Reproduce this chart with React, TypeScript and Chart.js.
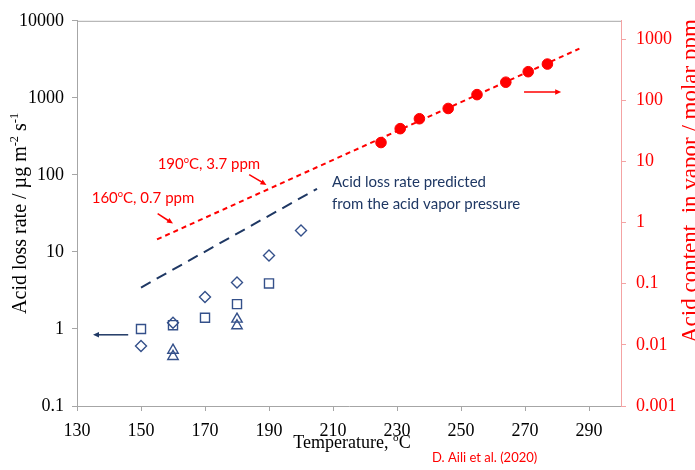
import React, { useEffect, useRef } from "react";
import { Chart, registerables } from "chart.js";

Chart.register(...registerables);

// ---------- data ----------
const X_TICKS = [130, 150, 170, 190, 210, 230, 250, 270, 290];
const Y_TICKS = [0.1, 1, 10, 100, 1000, 10000];
const Y2_TICKS = [0.001, 0.01, 0.1, 1, 10, 100, 1000];

const TEMP_DIAMOND = [150, 160, 170, 180, 190, 200];
const RATE_DIAMOND = [0.6, 1.2, 2.6, 4.0, 9.0, 19];

const TEMP_SQUARE = [150, 160, 170, 180, 190];
const RATE_SQUARE = [1.0, 1.12, 1.4, 2.1, 3.9];

const TEMP_TRIANGLE = [160, 160, 180, 180];
const RATE_TRIANGLE = [0.53, 0.44, 1.34, 1.1];

const TEMP_PREDICTED = [150, 205];
const RATE_PREDICTED = [3.45, 66];

const TEMP_VAPOR = [225, 231, 237, 246, 255, 264, 271, 277];
const VAPOR_PPM = [20.4, 34.4, 50, 73.6, 124, 198, 294, 392];

const TEMP_VAPOR_FIT = [155, 287];
const VAPOR_FIT_PPM = [0.53, 700];

// ---------- styles ----------
const SERIF = "'Liberation Serif', 'Times New Roman', serif";
const SANS = "Lato, 'Open Sans', sans-serif";
const NAVY = "#1F3864";
const MARK = "#34508A";
const RED = "#FF0000";
const AXIS_GRAY = "#A6A6A6";
const AXIS_PINK = "#F4A3A3";

const pts = (xs: number[], ys: number[]) => xs.map((x, i) => ({ x, y: ys[i] }));

type Part = [string, boolean?];

function richWidth(ctx: CanvasRenderingContext2D, parts: Part[], size: number, family: string) {
  let w = 0;
  for (const [t, sup] of parts) {
    ctx.font = `${sup ? size * 0.62 : size}px ${family}`;
    w += ctx.measureText(t).width;
  }
  return w;
}

function drawRich(
  ctx: CanvasRenderingContext2D,
  parts: Part[],
  x: number,
  y: number,
  size: number,
  family: string,
  color: string,
  align: "left" | "center" = "left"
) {
  ctx.save();
  ctx.fillStyle = color;
  ctx.textBaseline = "alphabetic";
  ctx.textAlign = "left";
  const total = richWidth(ctx, parts, size, family);
  let cx = align === "center" ? x - total / 2 : x;
  for (const [t, sup] of parts) {
    ctx.font = `${sup ? size * 0.62 : size}px ${family}`;
    ctx.fillText(t, cx, sup ? y - size * 0.4 : y);
    cx += ctx.measureText(t).width;
  }
  ctx.restore();
}

function drawArrow(
  ctx: CanvasRenderingContext2D,
  x1: number,
  y1: number,
  x2: number,
  y2: number,
  color: string,
  width: number,
  head: number
) {
  const ang = Math.atan2(y2 - y1, x2 - x1);
  ctx.save();
  ctx.strokeStyle = color;
  ctx.fillStyle = color;
  ctx.lineWidth = width;
  ctx.setLineDash([]);
  ctx.beginPath();
  ctx.moveTo(x1, y1);
  ctx.lineTo(x2 - Math.cos(ang) * head * 0.8, y2 - Math.sin(ang) * head * 0.8);
  ctx.stroke();
  ctx.beginPath();
  ctx.moveTo(x2, y2);
  ctx.lineTo(
    x2 - Math.cos(ang) * head + Math.sin(ang) * head * 0.45,
    y2 - Math.sin(ang) * head - Math.cos(ang) * head * 0.45
  );
  ctx.lineTo(
    x2 - Math.cos(ang) * head - Math.sin(ang) * head * 0.45,
    y2 - Math.sin(ang) * head + Math.cos(ang) * head * 0.45
  );
  ctx.closePath();
  ctx.fill();
  ctx.restore();
}

const decorPlugin = {
  id: "decor",
  afterDraw(chart: any) {
    const ctx: CanvasRenderingContext2D = chart.ctx;
    const { left, right, top, bottom } = chart.chartArea;
    const xs = chart.scales.x;
    const yl = chart.scales.y;
    const yr = chart.scales.y2;
    const X = (v: number) => xs.getPixelForValue(v);
    const YL = (v: number) => yl.getPixelForValue(v);
    const YR = (v: number) => yr.getPixelForValue(v);

    // top frame line
    ctx.save();
    ctx.strokeStyle = AXIS_GRAY;
    ctx.lineWidth = 1;
    ctx.beginPath();
    ctx.moveTo(left, top + 0.5);
    ctx.lineTo(right, top + 0.5);
    ctx.stroke();
    ctx.restore();

    // left axis title
    ctx.save();
    ctx.translate(26, (top + bottom) / 2);
    ctx.rotate(-Math.PI / 2);
    drawRich(
      ctx,
      [["Acid loss rate / µg m"], ["-2", true], [" s"], ["-1", true]],
      0,
      0,
      20,
      SERIF,
      "#000",
      "center"
    );
    ctx.restore();

    // right axis title
    ctx.save();
    ctx.translate(697, 343);
    ctx.rotate(-Math.PI / 2);
    drawRich(ctx, [["Acid content  in vapor / molar ppm"]], 0, 0, 23, SERIF, RED, "left");
    ctx.restore();

    // x axis title
    drawRich(ctx, [["Temperature, "], ["o", true], ["C"]], (left + right) / 2 + 3, 448, 18, SERIF, "#000", "center");

    // citation
    drawRich(ctx, [["D. Aili et al. (2020)"]], 432, 462, 13, SANS, RED);

    // annotations
    drawRich(ctx, [["190"], ["o", true], ["C, 3.7 ppm"]], X(155.2), YL(138) + 5, 15, SANS, RED);
    drawArrow(ctx, X(183.8), YL(101), X(189.2), YL(74), RED, 1.5, 6);

    drawRich(ctx, [["160"], ["o", true], ["C, 0.7 ppm"]], X(134.6), YL(50) + 5, 15, SANS, RED);
    drawArrow(ctx, X(155.2), YL(31.4), X(160), YL(23.3), RED, 1.5, 6);

    drawRich(ctx, [["Acid loss rate predicted"]], X(209.7), YL(80.7) + 5, 15, SANS, NAVY);
    drawRich(ctx, [["from the acid vapor pressure"]], X(209.7), YL(42.4) + 5, 15, SANS, NAVY);

    // axis pointer arrows
    drawArrow(ctx, X(146), YL(0.84), X(135), YL(0.84), NAVY, 1.5, 6);
    drawArrow(ctx, X(269.7), YR(137), X(281.3), YR(137), RED, 1.5, 6);
  },
};

export default function App() {
  const ref = useRef<HTMLCanvasElement | null>(null);

  useEffect(() => {
    if (!ref.current) return;
    const chart = new Chart(ref.current, {
      type: "scatter",
      data: {
        datasets: [
          {
            data: pts(TEMP_VAPOR, VAPOR_PPM),
            yAxisID: "y2",
            pointStyle: "circle",
            pointRadius: 5.3,
            backgroundColor: RED,
            borderColor: RED,
            borderWidth: 1,
          },
          {
            data: pts(TEMP_DIAMOND, RATE_DIAMOND),
            yAxisID: "y",
            pointStyle: "rectRot",
            pointRadius: 5.5,
            backgroundColor: "rgba(0,0,0,0)",
            borderColor: MARK,
            borderWidth: 1.4,
          },
          {
            data: pts(TEMP_SQUARE, RATE_SQUARE),
            yAxisID: "y",
            pointStyle: "rect",
            pointRadius: 6.4,
            backgroundColor: "rgba(0,0,0,0)",
            borderColor: MARK,
            borderWidth: 1.4,
          },
          {
            data: pts(TEMP_TRIANGLE, RATE_TRIANGLE),
            yAxisID: "y",
            pointStyle: "triangle",
            pointRadius: 6,
            backgroundColor: "rgba(0,0,0,0)",
            borderColor: MARK,
            borderWidth: 1.4,
          },
          {
            data: pts(TEMP_PREDICTED, RATE_PREDICTED),
            yAxisID: "y",
            showLine: true,
            pointRadius: 0,
            borderColor: NAVY,
            borderWidth: 2,
            borderDash: [11, 7],
          },
          {
            data: pts(TEMP_VAPOR_FIT, VAPOR_FIT_PPM),
            yAxisID: "y2",
            showLine: true,
            pointRadius: 0,
            borderColor: RED,
            borderWidth: 2,
            borderDash: [5, 4],
          },
        ],
      },
      options: {
        responsive: false,
        animation: false,
        devicePixelRatio: 1,
        layout: { padding: { top: 18, left: 0, right: 0, bottom: 0 } },
        plugins: { legend: { display: false }, tooltip: { enabled: false } },
        scales: {
          x: {
            type: "linear",
            min: 130,
            max: 300,
            afterBuildTicks: (s: any) => {
              s.ticks = X_TICKS.map((v) => ({ value: v }));
            },
            afterFit: (s: any) => {
              s.height = 64;
            },
            grid: { drawOnChartArea: false, drawTicks: true, tickLength: 5, color: AXIS_GRAY },
            border: { color: AXIS_GRAY, width: 1 },
            ticks: {
              font: { family: SERIF, size: 18 },
              color: "#000",
              padding: 9,
              maxRotation: 0,
              autoSkip: false,
              callback: (v: any) => String(v),
            },
          },
          y: {
            type: "logarithmic",
            position: "left",
            min: 0.1,
            max: 10000,
            afterBuildTicks: (s: any) => {
              s.ticks = Y_TICKS.map((v) => ({ value: v, major: true }));
            },
            afterFit: (s: any) => {
              s.width = 77;
            },
            grid: { drawOnChartArea: false, drawTicks: true, tickLength: 5, color: AXIS_GRAY },
            border: { color: AXIS_GRAY, width: 1 },
            ticks: {
              font: { family: SERIF, size: 18 },
              color: "#000",
              padding: 8,
              autoSkip: false,
              callback: (v: any) => String(v),
            },
          },
          y2: {
            type: "logarithmic",
            position: "right",
            min: 0.001,
            max: 2000,
            afterBuildTicks: (s: any) => {
              s.ticks = Y2_TICKS.map((v) => ({ value: v, major: true }));
            },
            afterFit: (s: any) => {
              s.width = 74;
            },
            grid: { drawOnChartArea: false, drawTicks: true, tickLength: 5, color: AXIS_PINK },
            border: { color: AXIS_PINK, width: 1 },
            ticks: {
              font: { family: SERIF, size: 18 },
              color: RED,
              padding: 10,
              autoSkip: false,
              callback: (v: any) => String(v),
            },
          },
        },
      },
      plugins: [decorPlugin],
    } as any);
    return () => chart.destroy();
  }, []);

  return (
    <div style={{ position: "absolute", left: 0, top: 0, width: 695, height: 470, background: "#fff" }}>
      <canvas ref={ref} width={695} height={470} style={{ width: 695, height: 470, display: "block" }} />
    </div>
  );
}
